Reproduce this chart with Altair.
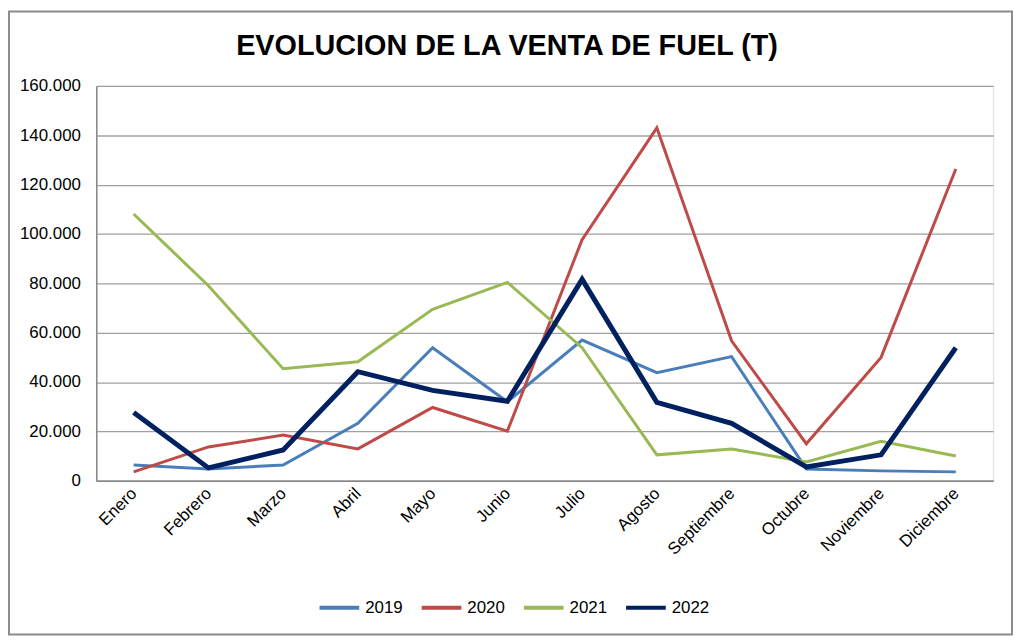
import altair as alt
import pandas as pd

title_text = "EVOLUCION DE LA VENTA DE FUEL (T)"
months = ["Enero", "Febrero", "Marzo", "Abril", "Mayo", "Junio", "Julio",
          "Agosto", "Septiembre", "Octubre", "Noviembre", "Diciembre"]
years = ["2019", "2020", "2021", "2022"]
v2019 = [6400, 4800, 6400, 23300, 53900, 32000, 57000, 43800, 50300, 4800, 4000, 3600]
v2020 = [3600, 13700, 18500, 12900, 29700, 20100, 97700, 143000, 56700, 15000, 50000, 126300]
v2021 = [108100, 79000, 45400, 48200, 69500, 80400, 53900, 10500, 12900, 7600, 16000, 10000]
v2022 = [27700, 5200, 12500, 44200, 36600, 32200, 81600, 31800, 23300, 5600, 10500, 53900]
colors = ["#4A7EBB", "#BE4B48", "#98B954", "#002060"]

rows = []
for y, vals in zip(years, [v2019, v2020, v2021, v2022]):
    for m, v in zip(months, vals):
        rows.append({"Mes": m, "Año": y, "Valor": v})
df = pd.DataFrame(rows)

W, H = 904, 398
PL, PT, PR, PB = 89, 76, 22, 158

lines = alt.Chart(df).mark_line(strokeJoin="miter", clip=False).encode(
    x=alt.X("Mes:N", sort=months, scale=alt.Scale(padding=0.5),
            axis=alt.Axis(title=None, labelAngle=-45, labelFontSize=17,
                          labelFont="Liberation Sans", labelColor="#000000",
                          labelAlign="right", labelBaseline="middle",
                          labelPadding=10, ticks=False, domainColor="#868686",
                          domainWidth=1.5, grid=False)),
    y=alt.Y("Valor:Q", scale=alt.Scale(domain=[0, 160000], nice=False),
            axis=alt.Axis(title=None, values=list(range(0, 160001, 20000)),
                          labelExpr="datum.value == 0 ? '0' : replace(format(datum.value, ','), ',', '.')",
                          labelFontSize=17, labelFont="Liberation Sans",
                          labelColor="#000000", labelPadding=16, ticks=False,
                          domainColor="#868686", domainWidth=1.5,
                          gridColor="#A0A0A0", gridWidth=1.3)),
    color=alt.Color("Año:N", scale=alt.Scale(domain=years, range=colors),
                    legend=alt.Legend(title=None, orient="none", legendX=223,
                                      legendY=504, direction="horizontal",
                                      symbolType="stroke", symbolSize=1600,
                                      symbolStrokeWidth=4, labelFontSize=17,
                                      labelFont="Liberation Sans",
                                      labelColor="#000000", labelOffset=4,
                                      columnPadding=11)),
    strokeWidth=alt.condition(alt.datum["Año"] == "2022", alt.value(5), alt.value(3)),
    order=alt.Order("Año:N"),
)

frame = alt.Chart(pd.DataFrame({"a": [0]})).mark_rect(
    fill=None, stroke="#8C8C8C", strokeWidth=2, clip=False
).encode(
    x=alt.value(-PL + 1), x2=alt.value(W + PR - 3),
    y=alt.value(-PT + 1), y2=alt.value(H + PB - 3),
)

title = alt.Chart(pd.DataFrame({"t": [title_text]})).mark_text(
    font="Liberation Sans", fontSize=29, fontWeight="bold",
    color="#000000", align="center", baseline="alphabetic", clip=False
).encode(text="t:N", x=alt.value(414), y=alt.value(-31))

chart = alt.layer(lines, frame, title).properties(
    width=W, height=H,
    autosize=alt.AutoSizeParams(type="none"),
    padding={"left": PL, "top": PT, "right": PR, "bottom": PB},
).configure_view(stroke=None).configure(background="white")

chart.save("out.html", embed_options={"renderer": "svg", "actions": False})
